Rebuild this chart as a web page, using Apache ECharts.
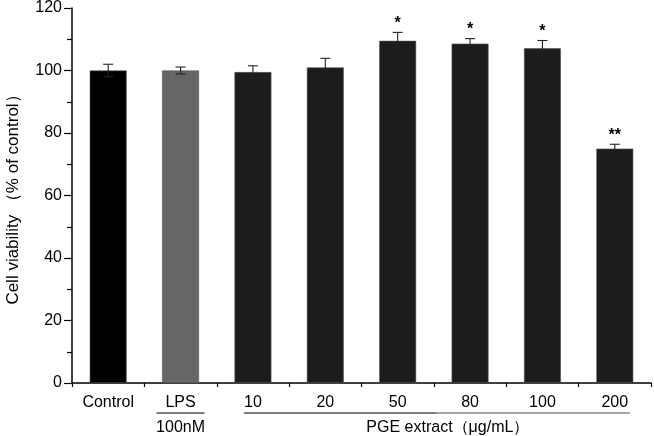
<!DOCTYPE html>
<html>
<head>
<meta charset="utf-8">
<script src="https://cdn.jsdelivr.net/npm/echarts@6/dist/echarts.min.js"></script>
<style>
html,body{margin:0;padding:0;background:#fff;}
#main{width:654px;height:436px;}
</style>
</head>
<body>
<div id="main"></div>
<script>
// ---- data ----
var categories = ['Control', 'LPS', '10', '20', '50', '80', '100', '200'];
var values = [100.0, 100.0, 99.5, 101.0, 109.5, 108.6, 107.1, 75.0];
var errors = [2.0, 1.1, 2.0, 2.9, 2.7, 1.6, 2.5, 1.4];
var significance = ['', '', '', '', '*', '*', '*', '**'];
var barColors = ['#000000', '#666666', '#1c1c1c', '#1c1c1c', '#1c1c1c', '#1c1c1c', '#1c1c1c', '#1c1c1c'];
var yTicks = { min: 0, max: 120, interval: 20 };
var yAxisName = 'Cell viability （% of control）';
var lpsGroupLabel = '100nM';
var pgeGroupLabel = 'PGE extract（μg/mL）';

var FONT = '"Liberation Sans", Arial, sans-serif';
var chart = echarts.init(document.getElementById('main'), null, { renderer: 'canvas' });

var barData = values.map(function (v, i) {
  return { value: v, itemStyle: { color: barColors[i] } };
});
var errData = values.map(function (v, i) {
  return [i, v, errors[i], significance[i]];
});

var option = {
  animation: false,
  backgroundColor: '#ffffff',
  grid: { left: 72, right: 3, top: 8, bottom: 53, containLabel: false, outerBoundsMode: 'none' },
  xAxis: [{
    type: 'category',
    data: categories,
    position: 'bottom',
    axisLine: { lineStyle: { color: '#000', width: 1.5 } },
    axisTick: { alignWithLabel: true, length: 8, inside: false, lineStyle: { color: '#000', width: 1.2 } },
    axisLabel: { color: '#000', fontFamily: FONT, fontSize: 16, margin: 12 },
    splitLine: { show: false }
  }, {
    type: 'category',
    data: categories,
    position: 'bottom',
    axisLine: { show: false },
    axisTick: { show: true, length: 4, lineStyle: { color: '#000', width: 1.2 } },
    axisLabel: { show: false },
    splitLine: { show: false }
  }],
  yAxis: {
    type: 'value',
    min: yTicks.min,
    max: yTicks.max,
    interval: yTicks.interval,
    name: yAxisName,
    nameLocation: 'middle',
    nameGap: 50,
    nameTextStyle: { color: '#000', fontFamily: FONT, fontSize: 17 },
    axisLine: { show: true, lineStyle: { color: '#000', width: 1.5 } },
    axisTick: { show: true, length: 8, lineStyle: { color: '#000', width: 1.2 } },
    minorTick: { show: true, splitNumber: 2, length: 5, lineStyle: { color: '#000', width: 1.2 } },
    axisLabel: { color: '#000', fontFamily: FONT, fontSize: 16, margin: 10 },
    splitLine: { show: false }
  },
  series: [{
    type: 'bar',
    xAxisIndex: 0,
    data: barData,
    barWidth: '51%',
    itemStyle: { borderColor: '#555', borderWidth: 0.6 }
  }, {
    type: 'custom',
    xAxisIndex: 0,
    data: errData,
    z: 5,
    renderItem: function (params, api) {
      var idx = api.value(0);
      var v = api.value(1);
      var e = api.value(2);
      var sig = errData[params.dataIndex][3];
      var hi = api.coord([idx, v + e]);
      var lo = api.coord([idx, v - e]);
      var cap = 5;
      var style = { stroke: '#222', lineWidth: 1.1 };
      var children = [
        { type: 'line', shape: { x1: hi[0], y1: hi[1], x2: lo[0], y2: lo[1] }, style: style },
        { type: 'line', shape: { x1: hi[0] - cap, y1: hi[1], x2: hi[0] + cap, y2: hi[1] }, style: style },
        { type: 'line', shape: { x1: lo[0] - cap, y1: lo[1], x2: lo[0] + cap, y2: lo[1] }, style: style }
      ];
      if (sig) {
        children.push({
          type: 'text',
          style: {
            text: sig, x: hi[0], y: hi[1] - 1,
            align: 'center', verticalAlign: 'bottom',
            fill: '#000', font: 'bold 16px ' + FONT
          }
        });
      }
      return { type: 'group', children: children };
    }
  }]
};
chart.setOption(option);

// group annotations under the x axis, positioned from the axis scale
function px(cat) { return chart.convertToPixel({ xAxisIndex: 0 }, cat); }
var step = px(categories[1]) - px(categories[0]);
var lineY = 413, textY = 428;
var xLps = px('LPS');
var x10 = px('10'), x50 = px('50'), x200 = px('200');
var split = x50 + step / 2 + 3;
chart.setOption({
  graphic: [
    { type: 'line', shape: { x1: xLps - 24, y1: lineY, x2: xLps + 24, y2: lineY }, style: { stroke: '#000', lineWidth: 1.2 } },
    { type: 'line', shape: { x1: x10 - 9, y1: lineY, x2: split, y2: lineY }, style: { stroke: '#000', lineWidth: 1.2 } },
    { type: 'line', shape: { x1: split, y1: lineY, x2: x200 + 15, y2: lineY }, style: { stroke: '#888', lineWidth: 1.6 } },
    { type: 'text', style: { text: lpsGroupLabel, x: xLps, y: textY, align: 'center', verticalAlign: 'middle', fill: '#000', font: '16px ' + FONT } },
    { type: 'text', style: { text: pgeGroupLabel, x: (x10 + x200) / 2 + 14, y: textY, align: 'center', verticalAlign: 'middle', fill: '#000', font: '16px ' + FONT } }
  ]
});
</script>
</body>
</html>
